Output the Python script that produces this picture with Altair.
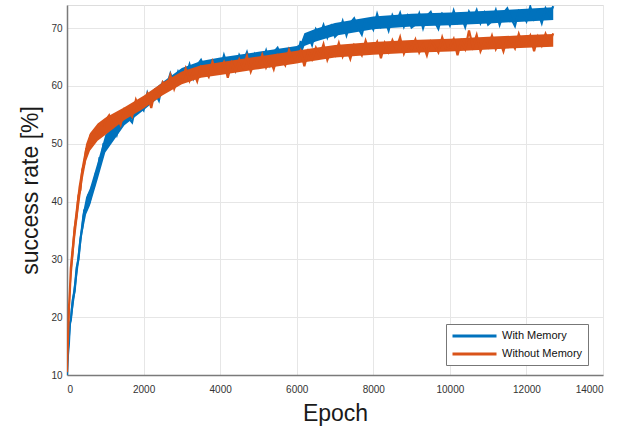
import altair as alt
import pandas as pd

EPOCHS = [0, 25, 50, 75] + list(range(100, 1001, 50)) + list(range(1100, 12701, 100))

WITH_MEMORY = [
    10.0, 13.5, 15.5, 19.0, 19.5, 23.0, 24.5, 28.5, 30.0, 33.5, 35.5, 38.5, 38.8, 40.8, 40.2,
    42.5, 42.4, 44.8, 44.8, 47.5, 47.5, 49.8, 49.5,
    50.7, 53.4, 51.6, 54.2, 55.6, 54.5, 53.7, 56.7, 56.7, 55.8,
    58.8, 57.2, 58.8, 57.5, 60.6, 59.9, 62.1, 60.3, 62.4, 60.7,
    61.5, 63.7, 61.4, 63.6, 64.5, 63.0, 61.8, 64.4, 64.0, 62.7,
    65.3, 63.3, 64.5, 62.7, 65.3, 64.1, 65.8, 63.6, 65.4, 63.5,
    64.1, 66.1, 63.7, 65.8, 66.6, 65.0, 63.8, 66.4, 66.0, 64.7,
    67.6, 67.3, 68.8, 67.1, 69.8, 68.7, 70.5, 68.4, 70.3, 68.5,
    69.2, 71.2, 68.8, 70.9, 71.7, 70.1, 68.9, 71.5, 71.1, 69.8,
    72.4, 70.3, 71.5, 69.6, 72.2, 70.9, 72.6, 70.3, 72.1, 70.1,
    70.6, 72.5, 70.0, 72.1, 72.8, 71.2, 69.9, 72.5, 72.0, 70.5,
    73.0, 71.0, 72.1, 70.2, 72.8, 71.5, 73.1, 70.9, 72.6, 70.6,
    71.2, 73.1, 70.6, 72.6, 73.4, 71.7, 70.4, 73.0, 72.5, 71.2,
    73.7, 71.6, 72.8, 70.9, 73.4, 72.2, 73.8,
]

WITHOUT_MEMORY = [
    10.5, 16.0, 21.5, 24.5, 28.5, 31.5, 35.5, 37.5, 41.0, 42.0, 45.5, 46.5, 49.0, 48.8, 51.0,
    50.2, 52.0, 50.8, 52.8, 51.5, 53.2, 52.0, 54.0,
    54.9, 53.0, 54.7, 53.3, 56.0, 55.6, 54.7, 57.6, 56.0, 56.9,
    58.6, 56.2, 59.2, 58.2, 60.6, 59.6, 61.9, 59.5, 61.4, 60.7,
    63.0, 60.9, 62.5, 60.8, 63.3, 62.7, 61.6, 64.2, 62.3, 62.7,
    64.1, 61.4, 64.0, 62.6, 64.6, 63.2, 65.2, 62.5, 64.2, 63.3,
    65.4, 63.2, 64.7, 62.9, 65.3, 64.7, 63.6, 66.2, 64.3, 64.7,
    66.1, 63.4, 66.0, 64.6, 66.6, 65.2, 67.2, 64.5, 66.2, 65.3,
    67.4, 65.1, 66.6, 64.7, 67.1, 66.4, 65.3, 67.8, 65.9, 66.2,
    67.6, 64.8, 67.4, 65.9, 67.9, 66.4, 68.4, 65.6, 67.3, 66.3,
    68.0, 65.8, 67.2, 65.3, 67.7, 67.0, 65.8, 68.4, 66.4, 66.7,
    68.1, 65.3, 67.8, 66.4, 69.6, 66.8, 68.8, 66.0, 67.6, 66.7,
    68.7, 66.4, 67.9, 66.0, 68.3, 67.7, 66.5, 69.0, 67.1, 67.4,
    68.7, 66.0, 68.5, 67.0, 69.0, 67.5, 69.1,
]

# lower / upper edge of the dense noisy band
BAND_EPOCHS = [0, 100, 200, 300, 400, 500, 600, 800, 1000, 1500, 2000, 2500, 3000, 3500,
               4000, 5000, 6000, 6100, 6200, 6500, 7000, 8000, 9000, 10000, 11000, 12000, 12700]
WITH_LOW = [10.0, 18.5, 23.5, 29.0, 34.5, 37.8, 39.3, 43.8, 48.5, 53.2, 55.8, 58.5, 60.9, 62.1,
            62.7, 63.7, 64.7, 65.1, 66.9, 67.7, 68.7, 69.8, 70.3, 70.5, 70.8, 71.15, 71.4]
WITH_HIGH = [10.5, 21.5, 26.5, 32.0, 37.5, 40.8, 42.3, 46.8, 51.5, 55.4, 58.0, 60.7, 63.1, 64.3,
             64.9, 65.9, 66.9, 67.3, 69.1, 69.9, 70.9, 72.0, 72.5, 72.7, 73.0, 73.35, 73.6]
WITHOUT_LOW = [10.0, 25.5, 33.0, 38.5, 43.5, 47.0, 48.8, 50.5, 51.5, 54.1, 56.1, 58.4, 60.3, 61.4,
               61.9, 62.9, 63.9, 64.0, 64.1, 64.4, 64.9, 65.4, 65.75, 65.95, 66.3, 66.6, 66.8]
WITHOUT_HIGH = [10.5, 30.5, 37.0, 42.5, 46.5, 50.0, 51.8, 53.5, 54.5, 56.3, 58.3, 60.6, 62.5, 63.6,
                64.1, 65.1, 66.1, 66.2, 66.3, 66.6, 67.1, 67.6, 67.95, 68.15, 68.5, 68.8, 69.0]

SERIES = ["With Memory", "Without Memory"]
COLORS = ["#0072BD", "#D95319"]
X_TICKS = [0, 2000, 4000, 6000, 8000, 10000, 12000, 14000]
Y_TICKS = [10, 20, 30, 40, 50, 60, 70]

n = min(len(EPOCHS), len(WITH_MEMORY), len(WITHOUT_MEMORY))
df_with = pd.DataFrame({"epoch": EPOCHS[:n], "rate": WITH_MEMORY[:n], "series": SERIES[0]})
df_without = pd.DataFrame({"epoch": EPOCHS[:n], "rate": WITHOUT_MEMORY[:n], "series": SERIES[1]})
band_with = pd.DataFrame({"epoch": BAND_EPOCHS, "low": WITH_LOW, "high": WITH_HIGH})
band_without = pd.DataFrame({"epoch": BAND_EPOCHS, "low": WITHOUT_LOW, "high": WITHOUT_HIGH})

FONT = "Liberation Sans"

x_scale = alt.Scale(domain=[0, 14000], nice=False)
y_scale = alt.Scale(domain=[10, 74], nice=False, zero=False)

x_enc = alt.X(
    "epoch:Q",
    scale=x_scale,
    axis=alt.Axis(values=X_TICKS, title="Epoch", format="d", labelFontSize=10,
                  labelPadding=9, titlePadding=8, titleFontSize=23, titleFontWeight="normal"),
)
y_enc = alt.Y(
    "rate:Q",
    scale=y_scale,
    axis=alt.Axis(values=Y_TICKS, title="success rate [%]", labelFontSize=10,
                  labelPadding=5, titlePadding=8, titleFontSize=23, titleFontWeight="normal"),
)
color_enc = alt.Color(
    "series:N",
    scale=alt.Scale(domain=SERIES, range=COLORS),
    legend=alt.Legend(title=None, orient="none", legendX=379, legendY=319),
)


def band(df, color):
    return alt.Chart(df).mark_area(color=color, opacity=1, clip=True).encode(
        x=alt.X("epoch:Q", scale=x_scale),
        y=alt.Y("low:Q", scale=y_scale),
        y2="high:Q",
    )


blue_band = band(band_with, COLORS[0])
orange_band = band(band_without, COLORS[1])
blue = alt.Chart(df_with).mark_line(strokeWidth=2.2, clip=True).encode(x=x_enc, y=y_enc, color=color_enc)
orange = alt.Chart(df_without).mark_line(strokeWidth=2.2, clip=True).encode(x=x_enc, y=y_enc, color=color_enc)

chart = (
    alt.layer(blue_band, blue, orange_band, orange)
    .properties(width=536, height=370, autosize=alt.AutoSizeParams(type="none"),
                padding={"left": 67, "top": 5, "right": 20, "bottom": 64})
    .configure_view(stroke=None)
    .configure(background="white")
    .configure_axis(
        labelFont=FONT, titleFont=FONT, labelColor="#333333", titleColor="#1a1a1a",
        domainColor="#7a7a7a", domainWidth=1.5, gridColor="#e6e6e6", gridWidth=1,
        ticks=False, grid=True,
    )
    .configure_legend(
        labelFont=FONT, labelFontSize=11, labelColor="#111111",
        strokeColor="#777777", fillColor="white", padding=5, cornerRadius=0,
        symbolType="M-4,0H4", symbolSize=121, symbolStrokeWidth=3,
        symbolOffset=16.5, labelOffset=20.5, rowPadding=5,
    )
)

chart.save("out.html", embed_options={"renderer": "svg", "actions": False})
